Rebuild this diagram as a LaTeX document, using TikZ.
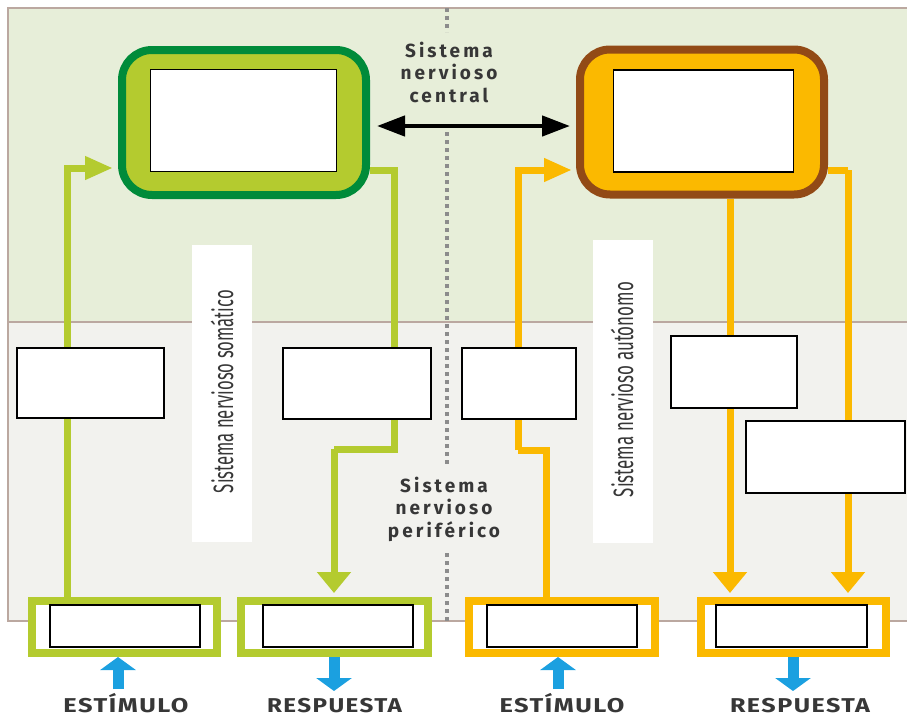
\documentclass[tikz,border=0pt]{standalone}
\usepackage{fontspec}
\setmainfont{Fira Sans}
\newfontfamily\hdfont[LetterSpace=16]{Fira Sans}
\newfontfamily\lbfont[LetterSpace=6]{Fira Sans}
\usetikzlibrary{arrows.meta,calc}
\definecolor{lime}{HTML}{B4CB2F}
\definecolor{dkgreen}{HTML}{008B3A}
\definecolor{orng}{HTML}{FBB900}
\definecolor{brwn}{HTML}{924A16}
\definecolor{skyb}{HTML}{1BA0E0}
\definecolor{toppanel}{HTML}{E7EED9}
\definecolor{botpanel}{HTML}{F2F2EE}
\definecolor{framec}{HTML}{BBA8A0}
\definecolor{txt}{HTML}{373737}
\definecolor{dotc}{HTML}{8C8C8C}
\tikzset{
  gl/.style={draw=lime,line width=7pt},
  ol/.style={draw=orng,line width=7pt},
  sidetip/.style={-{Triangle[width=22pt,length=28pt]}},
  downtip/.style={-{Triangle[width=33pt,length=21pt]}},
  cnsbox/.style={line width=8pt,rounded corners=30pt,minimum width=244pt,minimum height=145pt,inner sep=0pt},
  wbox/.style={draw=black,fill=white,line width=1.6pt,inner sep=0pt},
  bbox/.style={fill=white,line width=8pt,minimum height=52pt,inner sep=0pt},
  bluearr/.style={draw=skyb,line width=11pt,-{Triangle[width=35pt,length=13pt]}},
  lbl/.style={text=txt,anchor=base,inner sep=0pt},
  strip/.style={fill=white,draw=none},
  dotl/.style={draw=dotc,line width=4pt,dash pattern=on 4pt off 4pt},
  headtxt/.style={text=txt,align=center,inner sep=0pt,anchor=base,font=\hdfont\bfseries\fontsize{19}{22.5}\selectfont},
}
\begin{document}
\begin{tikzpicture}[x=1pt,y=-1pt]
\useasboundingbox (0,0) rectangle (907,718);
\fill[white] (0,0) rectangle (907,718);
% panels
\fill[toppanel] (8,8) rectangle (915,322);
\fill[botpanel] (8,322) rectangle (915,621);
\draw[framec,line width=1.5pt] (915,8) -- (8,8) -- (8,621) -- (915,621);
\draw[framec,line width=1.5pt] (8,322) -- (915,322);
% dotted divider
\draw[dotl] (447,8) -- (447,32);
\draw[dotl] (447,132) -- (447,465);
\draw[dotl] (447,553) -- (447,621);
% vertical strips
\fill[strip] (192,245) rectangle (252,542);
\fill[strip] (593,240) rectangle (653,543);
\node[text=txt,rotate=90,inner sep=0pt] (tsom) at (222,391.5) {\resizebox{203pt}{\height}{\fontsize{28}{28}\selectfont Sistema nervioso somático}};
\node[text=txt,rotate=90,inner sep=0pt] (taut) at (622,389.5) {\resizebox{215pt}{\height}{\fontsize{28}{28}\selectfont Sistema nervioso autónomo}};
% coordinates for connectors
\coordinate (gL) at (67,168);
\coordinate (gR) at (394,170);
\coordinate (gR2) at (334,449);
\coordinate (oK1) at (546,450);
\coordinate (oK2) at (518,450);
\coordinate (oT) at (518,170);
\coordinate (oM) at (730,300);
\coordinate (oR) at (848,170);
\coordinate (ba) at (447,126);
\coordinate (eS) at (118,689);
\coordinate (rS) at (334,691);
\coordinate (eA) at (558,689);
\coordinate (rA) at (793,691);
% bottom boxes (nodes)
\node[bbox,draw=lime,minimum width=185pt] (bS1) at (124.5,627) {};
\node[bbox,draw=lime,minimum width=187pt] (bS2) at (334.5,627) {};
\node[bbox,draw=orng,minimum width=186pt] (bA1) at (562,627) {};
\node[bbox,draw=orng,minimum width=185pt] (bA2) at (793.5,627) {};
% CNS boxes
\node[cnsbox,draw=dkgreen,fill=lime] (cnsS) at (244,122.5) {};
\node[cnsbox,draw=brwn,fill=orng] (cnsA) at (702,122) {};
% connectors
\draw[gl,sidetip,shorten >=5pt] (bS1.north -| gL) |- (cnsS.west |- gL);
\draw[gl] (cnsS.east |- gR) -- (gR) |- (gR2);
\draw[gl,downtip,shorten >=4pt] (gR2) -- (bS2.north -| gR2);
\draw[ol] (bA1.north -| oK1) -- (oK1) -- (oK2);
\draw[ol,sidetip,shorten >=4pt] (oK2) -- (oT) -- (cnsA.west |- oT);
\draw[ol,downtip,shorten >=4pt] (cnsA.south -| oM) -- (bA2.north -| oM);
\draw[ol] (cnsA.east |- oR) -- (oR);
\draw[ol,downtip,shorten >=4pt] (oR) -- (bA2.north -| oR);
\draw[line width=4.5pt,{Triangle[width=20pt,length=28pt]}-{Triangle[width=20pt,length=28pt]},shorten <=7pt,shorten >=6pt] (cnsS.east |- ba) -- (cnsA.west |- ba);
% inner white boxes of CNS
\node[wbox,minimum width=186pt,minimum height=102pt] (cS) at (243.5,120.5) {};
\node[wbox,minimum width=180pt,minimum height=102pt] (cA) at (703.5,121) {};
% middle white boxes
\node[wbox,minimum width=147pt,minimum height=70pt] (mL1) at (90.5,383) {};
\node[wbox,minimum width=148pt,minimum height=71pt] (mL2) at (357,383.5) {};
\node[wbox,minimum width=114pt,minimum height=71pt] (mO1) at (519,383.5) {};
\node[wbox,minimum width=126pt,minimum height=72pt] (mO2) at (734,372) {};
\node[wbox,minimum width=159pt,minimum height=72pt] (mO3) at (825.5,457) {};
% inner white boxes of bottom boxes
\node[wbox,minimum width=150pt,minimum height=42pt] (iS1) at (125,626) {};
\node[wbox,minimum width=150pt,minimum height=42pt] (iS2) at (338,626) {};
\node[wbox,minimum width=150pt,minimum height=42pt] (iA1) at (562,626) {};
\node[wbox,minimum width=151pt,minimum height=42pt] (iA2) at (791.5,626) {};
% blue arrows
\draw[bluearr] (eS) -- (eS |- bS1.south);
\draw[bluearr] (rS |- bS2.south) -- (rS);
\draw[bluearr] (eA) -- (eA |- bA1.south);
\draw[bluearr] (rA |- bA2.south) -- (rA);
% labels
\node[lbl] (lS1) at (126,712) {\resizebox{125pt}{\height}{\lbfont\bfseries\fontsize{20}{20}\selectfont ESTÍMULO}};
\node[lbl] (lS2) at (334.5,712) {\resizebox{135pt}{\height}{\lbfont\bfseries\fontsize{20}{20}\selectfont RESPUESTA}};
\node[lbl] (lA1) at (562,712) {\resizebox{125pt}{\height}{\lbfont\bfseries\fontsize{20}{20}\selectfont ESTÍMULO}};
\node[lbl] (lA2) at (800,712) {\resizebox{140pt}{\height}{\lbfont\bfseries\fontsize{20}{20}\selectfont RESPUESTA}};
\node[headtxt] (tcen) at (449,102) {Sistema\\ nervioso\\ central};
\node[headtxt] (tper) at (444,537) {Sistema\\ nervioso\\ periférico};
\end{tikzpicture}
\end{document}
